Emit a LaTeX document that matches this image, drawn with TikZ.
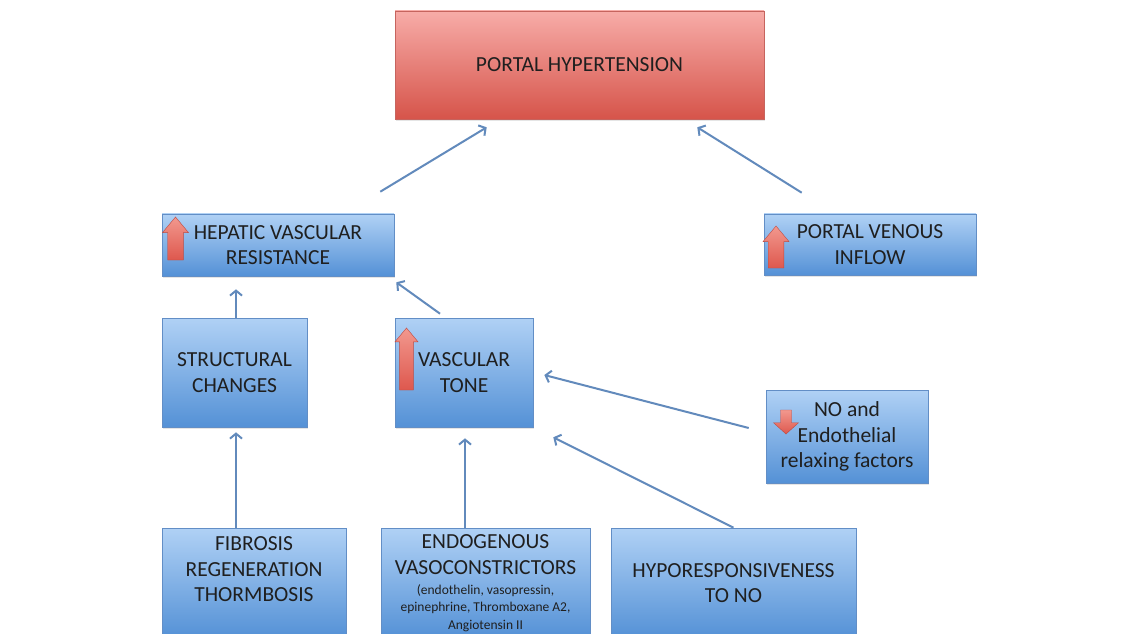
\documentclass[tikz,border=0pt]{standalone}
\usepackage{fontspec}
\setmainfont{Carlito}
\usetikzlibrary{positioning,calc,arrows.meta,shadows}

\definecolor{boxtop}{RGB}{176,209,245}
\definecolor{boxbot}{RGB}{84,145,214}
\definecolor{boxline}{RGB}{98,142,198}
\definecolor{phtop}{RGB}{247,172,168}
\definecolor{phbot}{RGB}{214,84,74}
\definecolor{phline}{RGB}{198,100,94}
\definecolor{connblue}{RGB}{98,138,188}
\definecolor{arrtop}{RGB}{242,152,142}
\definecolor{arrbot}{RGB}{222,88,78}

\tikzset{
  box/.style={draw=boxline, line width=0.6pt, top color=boxtop, bottom color=boxbot,
    align=center, inner sep=0pt, text=black!88,
    font=\fontsize{21.5}{25.5}\selectfont,
    drop shadow={opacity=0.2, shadow xshift=1pt, shadow yshift=-2pt}},
  redbox/.style={box, draw=phline, top color=phtop, bottom color=phbot},
  conn/.style={draw=connblue, line width=2pt, -{Straight Barb[length=5pt,width=12pt]}}
}
\newcommand{\smalltxt}{\fontsize{13.5}{17}\selectfont}

% block arrows inside the boxes: centre x, foot y, head width, length
\newcommand{\redup}[4]{%
  \pgfmathsetmacro\hs{0.3*#3}\pgfmathsetmacro\hh{0.6*#3}%
  \shade[top color=arrtop, bottom color=arrbot, draw=arrbot!85!black, line width=0.4pt]
    (#1-\hs,#2) -- (#1+\hs,#2) -- (#1+\hs,#2+#4-\hh) -- (#1+#3/2,#2+#4-\hh)
    -- (#1,#2+#4) -- (#1-#3/2,#2+#4-\hh) -- (#1-\hs,#2+#4-\hh) -- cycle;}
\newcommand{\reddown}[4]{%
  \pgfmathsetmacro\hs{0.22*#3}\pgfmathsetmacro\hh{0.45*#3}%
  \shade[top color=arrtop, bottom color=arrbot, draw=arrbot!85!black, line width=0.4pt]
    (#1-\hs,#2) -- (#1+\hs,#2) -- (#1+\hs,#2-#4+\hh) -- (#1+#3/2,#2-#4+\hh)
    -- (#1,#2-#4) -- (#1-#3/2,#2-#4+\hh) -- (#1-\hs,#2-#4+\hh) -- cycle;}

\begin{document}
\begin{tikzpicture}[x=1pt, y=1pt]
  \fill[white] (0,0) rectangle (1145,633);
  \useasboundingbox (0,0) rectangle (1145,633);

  % Top
  \node[redbox, minimum width=369, minimum height=108] (ph) at (579.5,568) {PORTAL HYPERTENSION};

  % Second row
  \node[box, minimum width=232, minimum height=62] (hvr) at (278,388) {HEPATIC VASCULAR\\RESISTANCE};
  \node[box, minimum width=212, minimum height=61] (pvi) at (870,388.5) {PORTAL VENOUS\\INFLOW};

  % Third row
  \node[box, minimum width=145, minimum height=109] (sc) at (234.5,260.5) {STRUCTURAL\\CHANGES};
  \node[box, minimum width=138, minimum height=109] (vt) at (464,260.5) {VASCULAR\\TONE};
  \node[box, minimum width=162, minimum height=93] (no) at (847,196.5) {NO and\\Endothelial\\relaxing factors};

  % Bottom row
  \node[box, minimum width=184, minimum height=110] (fib) at (254,50) {FIBROSIS\\REGENERATION\\THORMBOSIS\\[2pt]~};
  \node[box, minimum width=209, minimum height=110] (endo) at (485.5,50)
    {ENDOGENOUS\\VASOCONSTRICTORS\\[-5.5pt]\smalltxt(endothelin, vasopressin,\\[-8pt]\smalltxt epinephrine, Thromboxane A2,\\[-8pt]\smalltxt Angiotensin II};
  \node[box, minimum width=245, minimum height=110] (hypo) at (733.5,50) {HYPORESPONSIVENESS\\TO NO};

  % Up / down markers
  \redup{175.5}{373}{26}{43}
  \redup{406.5}{243}{23}{62}
  \redup{776}{365}{26}{42}
  \reddown{786}{223}{25}{24}

  % Connectors
  \draw[conn] ([shift={(-14,22)}]hvr.north east) -- ([shift={(92,-8)}]ph.south west);
  \draw[conn] ([shift={(38,21)}]pvi.north west) -- ([shift={(-67,-8)}]ph.south east);
  \draw[conn] ([xshift=1.5]sc.north) -- ([shift={(1.5,-13)}]sc.north |- hvr.south);
  \draw[conn] ([shift={(-24,4)}]vt.north) -- ([shift={(2,-6)}]hvr.south east);
  \draw[conn] ([xshift=1.5]sc.south |- fib.north) -- ([shift={(1.5,-5)}]sc.south);
  \draw[conn] ([xshift=1]vt.south |- endo.north) -- ([shift={(1,-11)}]vt.south);
  \draw[conn] (hypo.north) -- ([shift={(20,-10)}]vt.south east);
  \draw[conn] ([shift={(-17,8.5)}]no.west) -- ([shift={(11,-2.5)}]vt.east);
\end{tikzpicture}
\end{document}
